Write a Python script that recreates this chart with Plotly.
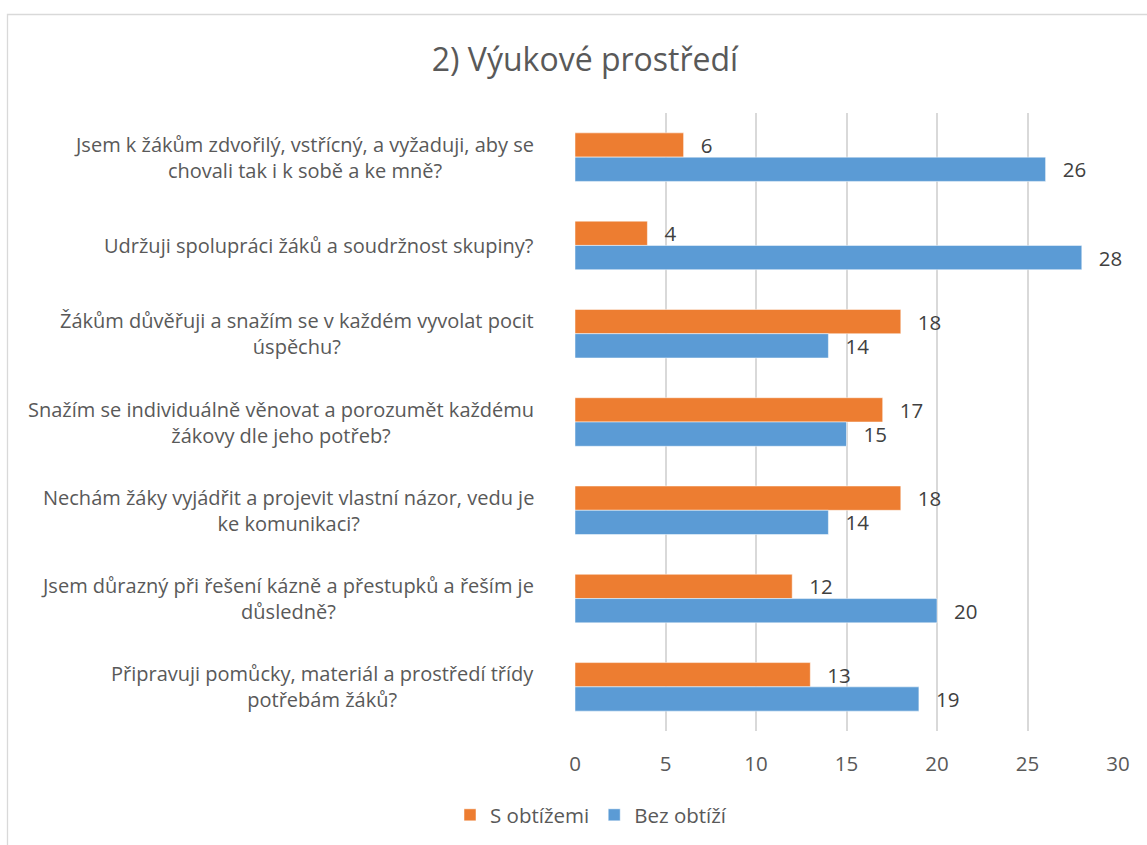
import plotly.graph_objects as go

categories = [
    "Jsem k žákům zdvořilý, vstřícný, a vyžaduji, aby se<br>chovali tak i k sobě a ke mně?",
    "Udržuji spolupráci žáků a soudržnost skupiny?",
    "Žákům důvěřuji a snažím se v každém vyvolat pocit<br>úspěchu?",
    "Snažím se individuálně věnovat a porozumět každému<br>žákovy dle jeho potřeb?",
    "Nechám žáky vyjádřit a projevit vlastní názor, vedu je<br>ke komunikaci?",
    "Jsem důrazný při řešení kázně a přestupků a řeším je<br>důsledně?",
    "Připravuji pomůcky, materiál a prostředí třídy<br>potřebám žáků?",
]
s_obtizemi = [6, 4, 18, 17, 18, 12, 13]
bez_obtizi = [26, 28, 14, 15, 14, 20, 19]
x_ticks = [0, 5, 10, 15, 20, 25, 30]

FONT = "Open Sans"
FS = 20.5
FS_CAT = 20
W, H = 1147, 845
L, R, T, B = 575, 29, 113, 114
PW, PH = W - L - R, H - T - B

fig = go.Figure()
for name, vals, col in [("S obtížemi", s_obtizemi, "#ED7D31"),
                        ("Bez obtíží", bez_obtizi, "#5B9BD5")]:
    fig.add_trace(go.Bar(
        y=list(range(len(categories))), x=vals, name=name, orientation="h",
        marker=dict(color=col, line=dict(color="white", width=0.5)),
        text=vals, texttemplate="\u00a0\u00a0\u2009%{x}", textposition="outside",
        constraintext="none", cliponaxis=False,
        textfont=dict(family=FONT, size=FS, color="#404040"),
    ))

annots = []
for i, c in enumerate(categories):
    annots.append(dict(x=0, xref="paper", y=i, yref="y", text=c, showarrow=False,
                       xanchor="right", yanchor="middle", align="center", xshift=-39,
                       font=dict(family=FONT, size=FS_CAT, color="#595959")))

fig.update_layout(
    width=W, height=H,
    margin=dict(l=L, r=R, t=T, b=B, autoexpand=False),
    paper_bgcolor="white", plot_bgcolor="white",
    barmode="group", bargap=0.45, bargroupgap=0,
    title=dict(text="2) Výukové prostředí", x=585 / W, xanchor="center",
               y=1 - 60 / H, yanchor="middle", yref="container",
               font=dict(family=FONT, size=32, color="#595959")),
    xaxis=dict(range=[0, 30], tickvals=x_ticks, showgrid=True, gridcolor="#D9D9D9",
               gridwidth=1.5, zeroline=False, showline=False, ticks="",
               tickfont=dict(family=FONT, size=FS, color="#595959"), ticklabelstandoff=18),
    yaxis=dict(range=[len(categories) - 0.5, -0.5], showticklabels=False, showgrid=False,
               zeroline=False, showline=False),
    legend=dict(orientation="h", x=(591 - L) / PW, xanchor="center",
                y=(H - B - 815) / PH, yanchor="middle", itemwidth=30,
                font=dict(family=FONT, size=FS, color="#595959"), traceorder="normal"),
    showlegend=True,
    annotations=annots,
    shapes=[dict(type="rect", xref="paper", yref="paper",
                 x0=(7.5 - L) / PW, x1=(1160 - L) / PW,
                 y0=(H - B - 860) / PH, y1=(H - B - 14.5) / PH,
                 line=dict(color="#D9D9D9", width=1.3), fillcolor="rgba(0,0,0,0)",
                 layer="below")],
)

fig.write_html("out.html")
